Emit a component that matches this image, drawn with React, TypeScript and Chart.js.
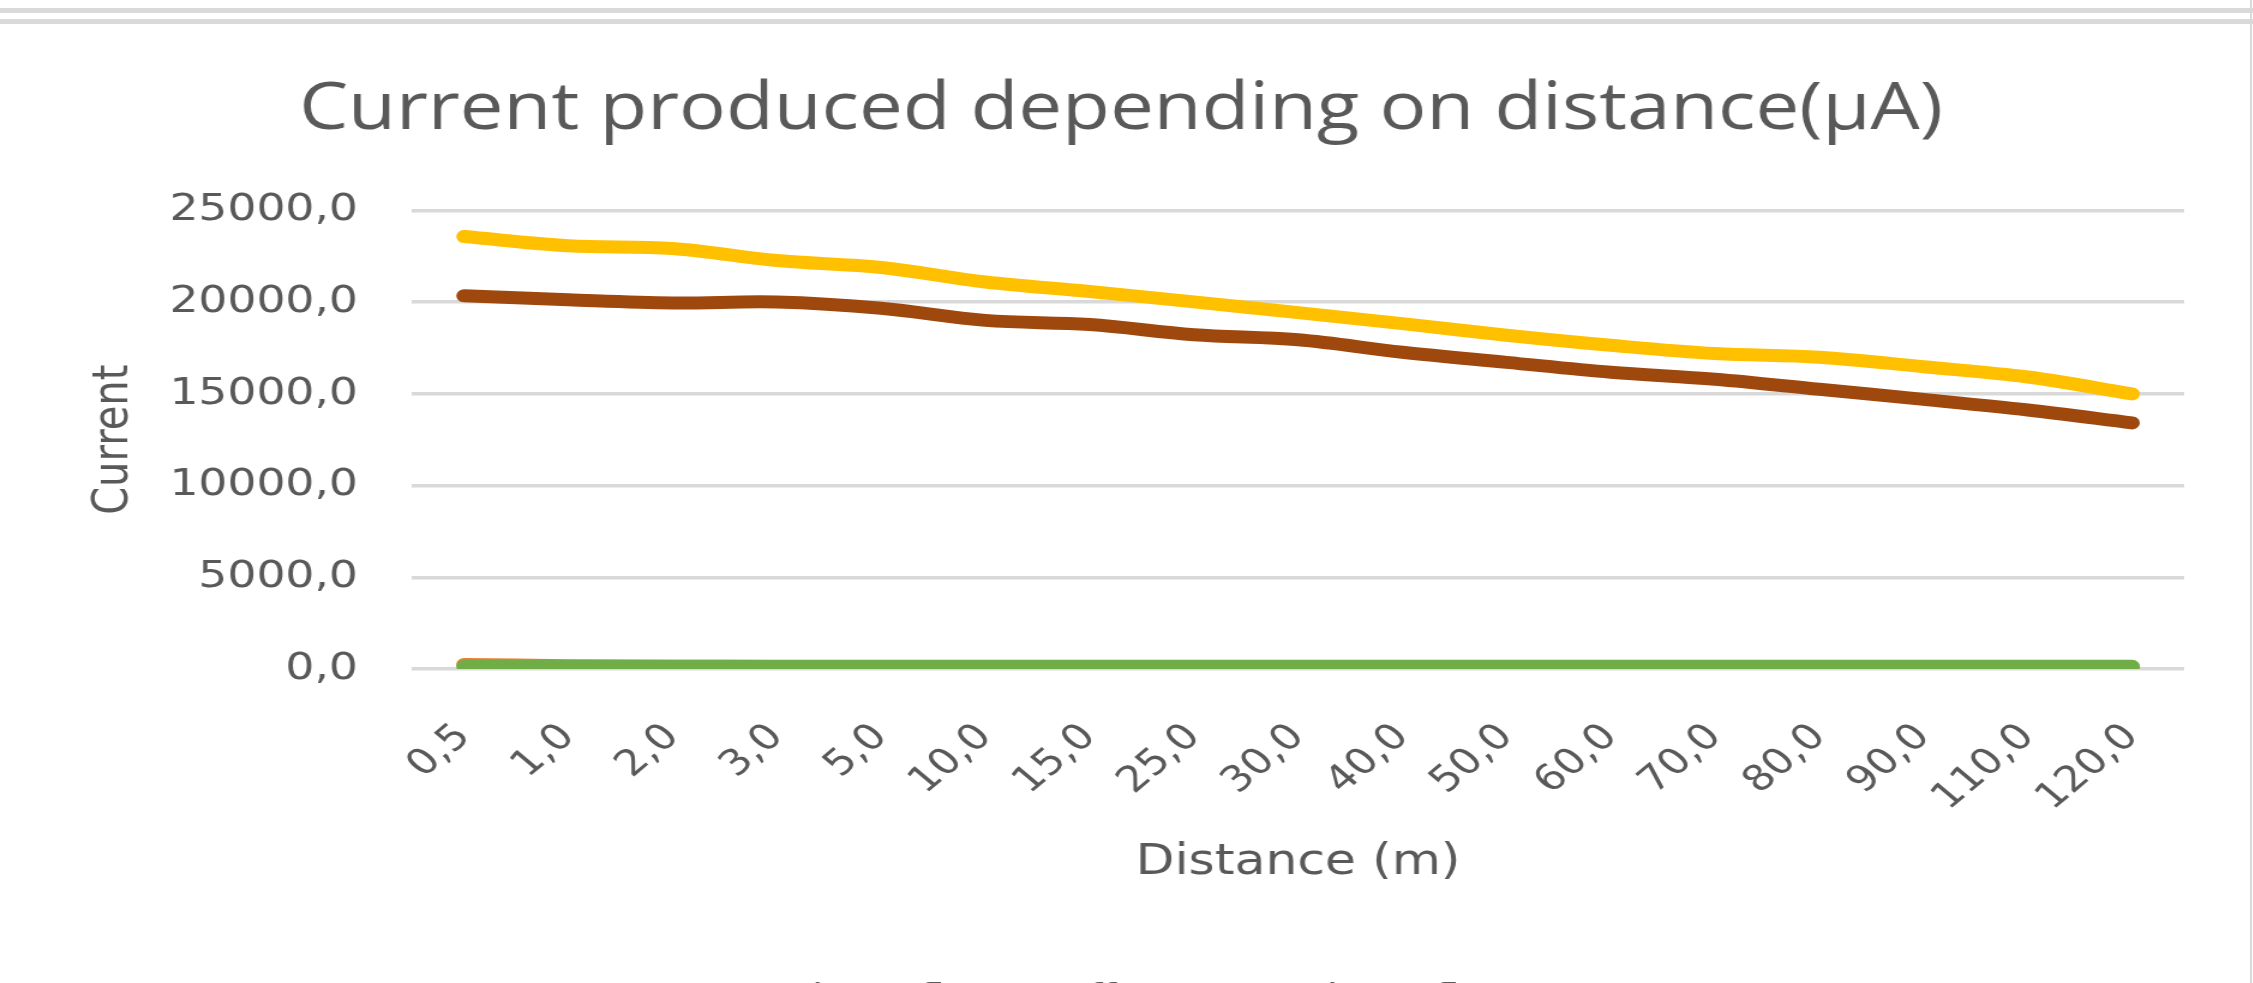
import React, { useEffect, useRef } from "react";
import { Chart, registerables } from "chart.js";

Chart.register(...registerables);

const categories = [
  "0,5", "1,0", "2,0", "3,0", "5,0", "10,0", "15,0", "25,0", "30,0",
  "40,0", "50,0", "60,0", "70,0", "80,0", "90,0", "110,0", "120,0",
];

const seriesNames = [
  "solar reflector off",
  "solar reflector on",
  "shade reflector off",
  "shade reflector on",
];

const orangeValues = [250, 180, 150, 140, 130, 120, 120, 110, 110, 100, 100, 100, 90, 90, 90, 80, 80];
const yellowValues = [23580, 23080, 22930, 22270, 21890, 21100, 20580, 20020, 19430, 18830, 18200, 17650, 17200, 17000, 16480, 15920, 15000];
const greenValues = [150, 150, 150, 150, 150, 150, 150, 150, 150, 150, 150, 150, 150, 150, 150, 150, 150];
const brownValues = [20350, 20130, 19960, 20010, 19670, 19010, 18780, 18230, 17950, 17270, 16720, 16180, 15800, 15250, 14700, 14120, 13420];

const yTickValues = [0, 5000, 10000, 15000, 20000, 25000];

const TEXT = "#595959";
const GRID = "#d9d9d9";
const ORANGE = "#ED7D31";
const YELLOW = "#FFC000";
const GREEN = "#70AD47";
const BROWN = "#9E480E";
const FONT = "'DejaVu Sans', sans-serif";
const TITLE_FONT = "'Open Sans', sans-serif";

const INNER_W = 1874;
const INNER_H = 1001;
const SHOWN_W = 2249;

export default function App() {
  const ref = useRef<HTMLCanvasElement>(null);

  useEffect(() => {
    const canvas = ref.current;
    if (!canvas) return;
    const mk = (label: string, data: number[], color: string, order: number) => ({
      label,
      data,
      borderColor: color,
      backgroundColor: color,
      order,
    });
    const chart = new Chart(canvas, {
      type: "line",
      data: {
        labels: categories,
        datasets: [
          mk(seriesNames[0], orangeValues, ORANGE, 1),
          mk(seriesNames[1], yellowValues, YELLOW, 0),
          mk(seriesNames[2], greenValues, GREEN, 0),
          mk(seriesNames[3], brownValues, BROWN, 0),
        ],
      },
      options: {
        responsive: false,
        animation: false,
        devicePixelRatio: 1,
        layout: { padding: { left: 48, right: 54, top: 0, bottom: 0 } },
        font: { family: FONT },
        elements: {
          line: {
            borderWidth: 13,
            tension: 0.35,
            borderCapStyle: "round",
            borderJoinStyle: "round",
            fill: false,
          },
          point: { radius: 0, hoverRadius: 0 },
        },
        plugins: {
          title: {
            display: true,
            text: "Current produced depending on distance(μA)",
            color: TEXT,
            font: { family: TITLE_FONT, size: 65, weight: "normal" },
            padding: { top: 46, bottom: 61.5 },
          },
          legend: {
            display: true,
            position: "bottom",
            labels: {
              color: TEXT,
              font: { family: FONT, size: 34 },
              boxWidth: 110,
              boxHeight: 8,
              padding: 10,
              filter: (item: any) => item.datasetIndex === 0 || item.datasetIndex === 1,
              sort: (a: any, b: any) => a.datasetIndex - b.datasetIndex,
            },
          },
          tooltip: { enabled: false },
        },
        scales: {
          x: {
            offset: true,
            grid: { display: false, offset: true },
            border: { display: false },
            ticks: {
              color: TEXT,
              font: { family: FONT, size: 36 },
              maxRotation: 45,
              minRotation: 45,
              padding: 39,
              autoSkip: false,
            },
            title: {
              display: true,
              text: "Distance (m)",
              color: TEXT,
              font: { family: FONT, size: 42 },
              padding: { top: 0, bottom: 83.8 },
            },
            afterFit: (s: any) => {
              s.height = 303;
            },
          },
          y: {
            min: 0,
            max: 25000,
            grid: { color: GRID, lineWidth: 3.5, drawTicks: false },
            border: { display: false },
            afterBuildTicks: (axis: any) => {
              axis.ticks = yTickValues.map((v) => ({ value: v }));
            },
            ticks: {
              color: TEXT,
              font: { family: FONT, size: 38 },
              padding: 45,
              callback: (v: any) => Number(v).toFixed(1).replace(".", ","),
            },
            title: {
              display: true,
              text: "Current",
              color: TEXT,
              font: { family: FONT, size: 40 },
              padding: { top: 24, bottom: 0 },
            },
            afterFit: (s: any) => {
              s.width = 295.3;
            },
          },
        },
      },
    } as any);
    return () => chart.destroy();
  }, []);

  return (
    <div
      style={{
        position: "fixed",
        left: 0,
        top: 0,
        width: 2253,
        height: 983,
        overflow: "hidden",
        background: "#ffffff",
      }}
    >
      <div style={{ position: "absolute", left: 0, top: 8, width: 2253, height: 5, background: GRID }} />
      <div style={{ position: "absolute", left: 0, top: 19, width: 2253, height: 5, background: GRID }} />
      <div style={{ position: "absolute", left: 2250, top: 0, width: 2, height: 983, background: GRID }} />
      <canvas
        ref={ref}
        width={INNER_W}
        height={INNER_H}
        style={{
          position: "absolute",
          left: 0,
          top: 25,
          width: `${SHOWN_W}px`,
          height: `${INNER_H}px`,
        }}
      />
    </div>
  );
}
